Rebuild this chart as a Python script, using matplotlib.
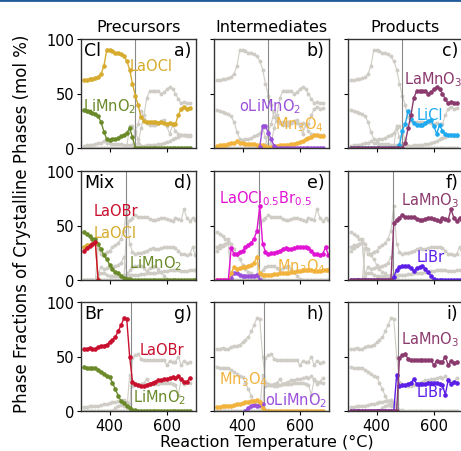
import numpy as np
import matplotlib.pyplot as plt
from matplotlib.lines import Line2D

nan = np.nan

# ── Data (mol %) ───────────────────────────────────────────────
temps_cl = [310, 320, 330, 340, 350, 360, 370, 380, 390, 400,
            410, 420, 430, 440, 450, 460, 470, 480, 490, 500,
            510, 520, 530, 540, 550, 560, 570, 580, 590, 600,
            610, 620, 630, 640, 650, 660, 670, 680]
temps_mix = temps_cl + [690, 700]
temps_br = temps_cl

cl_laocl = [62, 62, 63, 63, 64, 65, 68, 75, 90, 90,
            89, 87, 87, 86, 84, 80, 72, 59, 48, 39,
            28, 25, 24, 24, 24, 24, 23, 24, 23, 22,
            23, 22, 22, 30, 36, 38, 36, 37]
cl_limno2 = [35, 34, 33, 32, 31, 29, 24, 15, 8, 7,
             8, 8, 9, 11, 12, 14, 18, 10, 0, 0,
             0, 0, 0, 0, 0, 0, 0, 0, 0, 0,
             0, 0, 0, 0, 0, 0, 0, 0]
cl_olimno2 = [nan, nan, nan, nan, nan, nan, nan, nan, nan, nan,
              nan, nan, nan, nan, nan, 1, 20, 20, 14, 8,
              2, 0, 0, 0, 0, 0, 0, 0, 0, 0,
              0, 0, 0, 0, 0, 0, 0, 0]
cl_mn3o4 = [2, 2.5, 3, 3, 4, 4.5, 5, 6, 5, 5,
            4, 4, 4, 3.5, 3, 3, 2.5, 2, 1, 1,
            2, 2, 2.5, 2.5, 3, 3, 3.5, 4, 4.5, 5.5,
            6, 8, 9, 10.5, 11.5, 11.5, 11, 11]
cl_lamno3 = [0, 0, 0, 0, 0, 0, 0, 0, 0, 0,
             0, 0, 0, 0, 0, 0, 0, 0, 0, 5,
             18, 30, 46, 52, 52, 52, 52, 50, 51, 54,
             56, 54, 50, 45, 41, 42, 41, 41]
cl_licl = [0, 0, 0, 0, 0, 0, 0, 0, 0, 0,
           0, 0, 0, 0, 0, 0, 0, 3, 16, 22,
           34, 27, 23, 21, 21, 21, 23, 25, 26, 20,
           13, 21, 16, 13, 12, 12, 12, 12]

mx_laobr = [27, 29, 31, 33, 35, 0, nan, nan, nan, nan,
            nan, nan, nan, nan, nan, nan, nan, nan, nan, nan,
            nan, nan, nan, nan, nan, nan, nan, nan, nan, nan,
            nan, nan, nan, nan, nan, nan, nan, nan, nan, nan]
mx_laocl = [30, 32, 32, 33, 34, 0, nan, nan, nan, nan,
            nan, nan, nan, nan, nan, nan, nan, nan, nan, nan,
            nan, nan, nan, nan, nan, nan, nan, nan, nan, nan,
            nan, nan, nan, nan, nan, nan, nan, nan, nan, nan]
mx_limno2 = [44, 42, 40, 38, 38, 33, 28, 23, 19, 14,
             10, 7, 6, 4, 2, 1, 0.5, 0, 0, 0,
             0, 0, 0, 0, 0, 0, 0, 0, 0, 0,
             0, 0, 0, 0, 0, 0, 0, 0, 0, 0]
mx_laoclbr = [0, 0, 0, 0, 0, 29, 24, 24, 26, 27,
              30, 32, 34, 38, 45, 68, 33, 26, 24, 25,
              25, 26, 27, 28, 29, 28, 28, 29, 30, 30,
              30, 30, 29, 27, 24, 24, 23, 24, 30, 23]
mx_mn3o4 = [0, 0, 0, 0, 0, 6, 12, 10, 11, 12,
            12, 13, 14, 16, 21, 6, 5, 5, 5, 5,
            5.5, 5.5, 6, 6, 6, 6.5, 7, 7.5, 8, 8.5,
            9, 9, 9, 9, 8.5, 8, 8.5, 9, 9, 9]
mx_olimno2 = [nan, nan, nan, nan, nan, 2, 6, 6, 5, 4,
              4, 4, 4, 4, 5, 0, nan, nan, nan, nan,
              nan, nan, nan, nan, nan, nan, nan, nan, nan, nan,
              nan, nan, nan, nan, nan, nan, nan, nan, nan, nan]
mx_lamno3 = [0, 0, 0, 0, 0, 0, 0, 0, 0, 0,
             0, 0, 0, 0, 0, 52, 55, 57, 60, 58,
             58, 58, 58, 56, 55, 55, 56, 57, 57, 56,
             55, 54, 57, 56, 55, 65, 57, 54, 57, 55]
mx_libr = [0, 0, 0, 0, 0, 0, 0, 0, 0, 0,
           0, 0, 0, 0, 0, 3, 9, 12, 13, 13,
           13, 11, 8, 11, 12, 13, 10, 7, 4, 1,
           0, 0, 0, 0, 0, 0, 0, 0, 0, 0]

br_laobr = [57, 57, 58, 57, 57, 59, 60, 60, 61, 63,
            65, 68, 73, 79, 85, 84, 50, 27, 25, 24,
            23, 23, 24, 25, 26, 27, 28, 28, 29, 29,
            30, 31, 30, 32, 29, 27, 27, 30]
br_limno2 = [40, 39, 39, 39, 39, 38, 36, 34, 32, 31,
             26, 20, 14, 9, 7, 4.5, 2.5, 1, 0.5, 0,
             0, 0, 0, 0, 0, 0, 0, 0, 0, 0,
             0, 0, 0, 0, 0, 0, 0, 0]
br_mn3o4 = [4, 4, 4.5, 4.5, 5, 5, 5.5, 6, 6.5, 7,
            8, 8.5, 9, 9.5, 10, 8, 3, 0, 0, 0,
            0, 0, 0, 0, 0, 0, 0, 0, 0, 0,
            0, 0, 0, 0, 0, 0, 0, 0]
br_olimno2 = [nan, nan, nan, nan, nan, nan, nan, nan, nan, nan,
              0, 3, 5, 5.5, 5, 5.5, 6.5, 0, nan, nan,
              nan, nan, nan, nan, nan, nan, nan, nan, nan, nan,
              nan, nan, nan, nan, nan, nan, nan, nan]
br_lamno3 = [0, 0, 0, 0, 0, 0, 0, 0, 0, 0,
             0, 0, 0, 0, 0, 0, 0, 49, 51, 52,
             48, 47, 47, 47, 47, 47, 47, 47, 47, 42,
             46, 45, 45, 50, 42, 46, 44, 45]
br_libr = [0, 0, 0, 0, 0, 0, 0, 0, 0, 0,
           0, 0, 0, 0, 0, 0, 33, 23, 24, 24,
           25, 26, 29, 25, 25, 25, 25, 26, 26, 26,
           26, 25, 24, 15, 28, 25, 27, 26]

# temperature where the reaction sets in (vertical line)
onset = [488, 457, 474]

# ── Colours ────────────────────────────────────────────────────
C = {
    "LaOCl": "#D6AB2E", "LiMnO2": "#6A8A2A", "oLiMnO2": "#9A4FDB",
    "Mn3O4": "#F2B33D", "LaMnO3": "#8B3A6E", "LiCl": "#1FAAF0",
    "LaOBr": "#C8102E", "LaOClBr": "#E014D2", "LiBr": "#5B1FE8",
}
GREY = "#CFCCC5"

# row: (name, temps, {phase: values}, [precursors, intermediates, products])
rows = [
    ("Cl", temps_cl,
     {"LaOCl": cl_laocl, "LiMnO2": cl_limno2, "oLiMnO2": cl_olimno2,
      "Mn3O4": cl_mn3o4, "LaMnO3": cl_lamno3, "LiCl": cl_licl},
     [["LaOCl", "LiMnO2"], ["oLiMnO2", "Mn3O4"], ["LaMnO3", "LiCl"]]),
    ("Mix", temps_mix,
     {"LaOBr": mx_laobr, "LaOCl": mx_laocl, "LiMnO2": mx_limno2,
      "LaOClBr": mx_laoclbr, "Mn3O4": mx_mn3o4, "oLiMnO2": mx_olimno2,
      "LaMnO3": mx_lamno3, "LiBr": mx_libr},
     [["LaOBr", "LaOCl", "LiMnO2"], ["LaOClBr", "Mn3O4", "oLiMnO2"], ["LaMnO3", "LiBr"]]),
    ("Br", temps_br,
     {"LaOBr": br_laobr, "LiMnO2": br_limno2, "Mn3O4": br_mn3o4,
      "oLiMnO2": br_olimno2, "LaMnO3": br_lamno3, "LiBr": br_libr},
     [["LaOBr", "LiMnO2"], ["Mn3O4", "oLiMnO2"], ["LaMnO3", "LiBr"]]),
]

# in-panel labels: (text, phase, x, y) in axes fraction
labels = [
    [[("LaOCl", "LaOCl", 0.42, 0.76), ("LiMnO$_2$", "LiMnO2", 0.02, 0.39)],
     [("oLiMnO$_2$", "oLiMnO2", 0.22, 0.39), ("Mn$_3$O$_4$", "Mn3O4", 0.53, 0.22)],
     [("LaMnO$_3$", "LaMnO3", 0.49, 0.64), ("LiCl", "LiCl", 0.60, 0.31)]],
    [[("LaOBr", "LaOBr", 0.11, 0.64), ("LaOCl", "LaOCl", 0.11, 0.44),
      ("LiMnO$_2$", "LiMnO2", 0.42, 0.16)],
     [("LaOCl$_{0.5}$Br$_{0.5}$", "LaOClBr", 0.045, 0.755), ("Mn$_3$O$_4$", "Mn3O4", 0.55, 0.135)],
     [("LaMnO$_3$", "LaMnO3", 0.465, 0.74), ("LiBr", "LiBr", 0.60, 0.22)]],
    [[("LaOBr", "LaOBr", 0.51, 0.56), ("LiMnO$_2$", "LiMnO2", 0.455, 0.135)],
     [("Mn$_3$O$_4$", "Mn3O4", 0.045, 0.30), ("oLiMnO$_2$", "oLiMnO2", 0.445, 0.10)],
     [("LaMnO$_3$", "LaMnO3", 0.465, 0.66), ("LiBr", "LiBr", 0.60, 0.175)]],
]
titles = ["Precursors", "Intermediates", "Products"]
letters = ["a)", "b)", "c)", "d)", "e)", "f)", "g)", "h)", "i)"]

# ── Plot ───────────────────────────────────────────────────────
plt.rcParams["font.family"] = ["DejaVu Sans"]
plt.rcParams["mathtext.fontset"] = "dejavusans"

W, H = 461, 452
fig = plt.figure(figsize=(W / 100, H / 100), dpi=100)

lefts = [81, 214, 348]
tops = [40, 172, 303]
aw, ah = 115, 109

for r, (name, temps, data, groups) in enumerate(rows):
    for c in range(3):
        ax = fig.add_axes([lefts[c] / W, 1 - (tops[r] + ah) / H, aw / W, ah / H])
        hl = groups[c]
        for ph, vals in data.items():
            if ph in hl:
                continue
            ax.plot(temps, vals, color=GREY, lw=0.8, marker="o", ms=1.8,
                    zorder=2)
        ax.axvline(onset[r], color="#8a8a8a", lw=0.8, zorder=3)
        for ph in hl[::-1]:
            ax.plot(temps, data[ph], color=C[ph], lw=1.0, marker="o", ms=2.3,
                    zorder=4)
        for txt, ph, x, y in labels[r][c]:
            ax.text(x, y, txt, color=C[ph], fontsize=10.5, transform=ax.transAxes,
                    ha="left", va="center", zorder=6)
        ax.text(0.96, 0.98, letters[3 * r + c], transform=ax.transAxes,
                ha="right", va="top", fontsize=12.5, zorder=6)
        if c == 0:
            ax.text(0.03, 0.98, name, transform=ax.transAxes,
                    ha="left", va="top", fontsize=12.5, zorder=6)
        ax.set_xlim(300, 702)
        ax.set_ylim(0, 100)
        ax.set_xticks([400, 600])
        ax.set_yticks([0, 50, 100])
        ax.tick_params(direction="out", length=3, width=0.8, labelsize=10.5, pad=2)
        if c != 0:
            ax.set_yticklabels([])
        if r != 2:
            ax.set_xticklabels([])
        for s in ax.spines.values():
            s.set_linewidth(1.0)
            s.set_color("#333333")
            s.set_zorder(5)
        if r == 0:
            ax.set_title(titles[c], fontsize=11.5, pad=6)

fig.text(0.048, 0.504, "Phase Fractions of Crystalline Phases (mol %)",
         rotation=90, ha="center", va="center", fontsize=12)
fig.text(0.579, 0.02, "Reaction Temperature (°C)", ha="center", va="center",
         fontsize=11.5)
fig.add_artist(Line2D([0, 1], [1 - 1 / H, 1 - 1 / H], color="#1F5C99", lw=2,
                      transform=fig.transFigure))

fig.savefig("out.png", dpi=100)
